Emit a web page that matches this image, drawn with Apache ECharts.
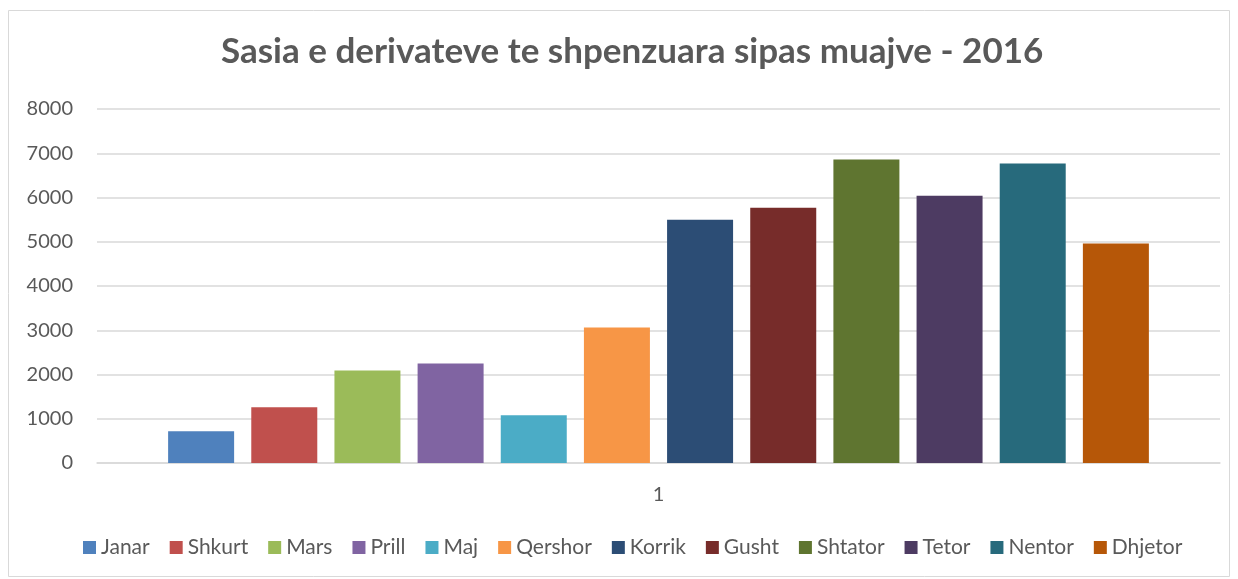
<!DOCTYPE html>
<html>
<head>
<meta charset="utf-8">
<script src="https://cdn.jsdelivr.net/npm/echarts@6/dist/echarts.min.js"></script>
<style>
html,body{margin:0;padding:0;background:#fff;}
#main{width:1238px;height:579px;}
</style>
</head>
<body>
<div id="main"></div>
<script>
// muajt dhe vlerat (nje kategori e vetme "1")
var categories = ['1'];
var months = ['Janar','Shkurt','Mars','Prill','Maj','Qershor','Korrik','Gusht','Shtator','Tetor','Nentor','Dhjetor'];
var values = [720, 1260, 2090, 2250, 1080, 3060, 5500, 5770, 6860, 6040, 6770, 4960];
var colors = ['#4f81bd','#c0504d','#9bbb59','#8064a2','#4bacc6','#f79646','#2c4d75','#772c2a','#5f7530','#4d3b62','#276a7c','#b65708'];
var yTicks = [0, 1000, 2000, 3000, 4000, 5000, 6000, 7000, 8000];

var txtColor = '#595959';
var fontName = 'Lato, "Open Sans", sans-serif';

var myChart = echarts.init(document.getElementById('main'));

// nje seri per cdo muaj
var series = [];
for (var i = 0; i < months.length; i++) {
	series.push({
		name: months[i],
		type: 'bar',
		data: [values[i]],
		barWidth: 66,
		barGap: '26%',
		itemStyle: {color: colors[i]}
	});
}

var option = {
	animation: false,
	textStyle: {fontFamily: fontName},
	graphic: [{
		type: 'rect',
		shape: {x: 8.5, y: 10.5, width: 1221, height: 566},
		style: {fill: 'none', stroke: '#d9d9d9', lineWidth: 1}
	}],
	title: {
		text: 'Sasia e derivateve te shpenzuara sipas muajve - 2016',
		left: 216,
		top: 29,
		textStyle: {fontFamily: fontName, fontSize: 35, fontWeight: 'bold', color: txtColor}
	},
	legend: {
		data: months,
		bottom: 16,
		left: 78,
		itemWidth: 13,
		itemHeight: 13,
		itemGap: 20,
		icon: 'rect',
		textStyle: {fontFamily: fontName, fontSize: 21, color: txtColor}
	},
	grid: {left: 97, right: 18, top: 109, bottom: 116},
	xAxis: {
		type: 'category',
		data: categories,
		axisLine: {lineStyle: {color: '#d9d9d9', width: 1.5}},
		axisTick: {show: false},
		axisLabel: {fontFamily: fontName, fontSize: 20, color: txtColor, margin: 22}
	},
	yAxis: {
		type: 'value',
		min: yTicks[0],
		max: yTicks[yTicks.length - 1],
		interval: 1000,
		axisLine: {show: false},
		axisTick: {show: false},
		axisLabel: {
			fontFamily: fontName, fontSize: 20, color: txtColor, margin: 24,
			formatter: function (v) { return String(v); }
		},
		splitLine: {lineStyle: {color: '#d9d9d9', width: 1.5}}
	},
	series: series
};

myChart.setOption(option);
</script>
</body>
</html>
